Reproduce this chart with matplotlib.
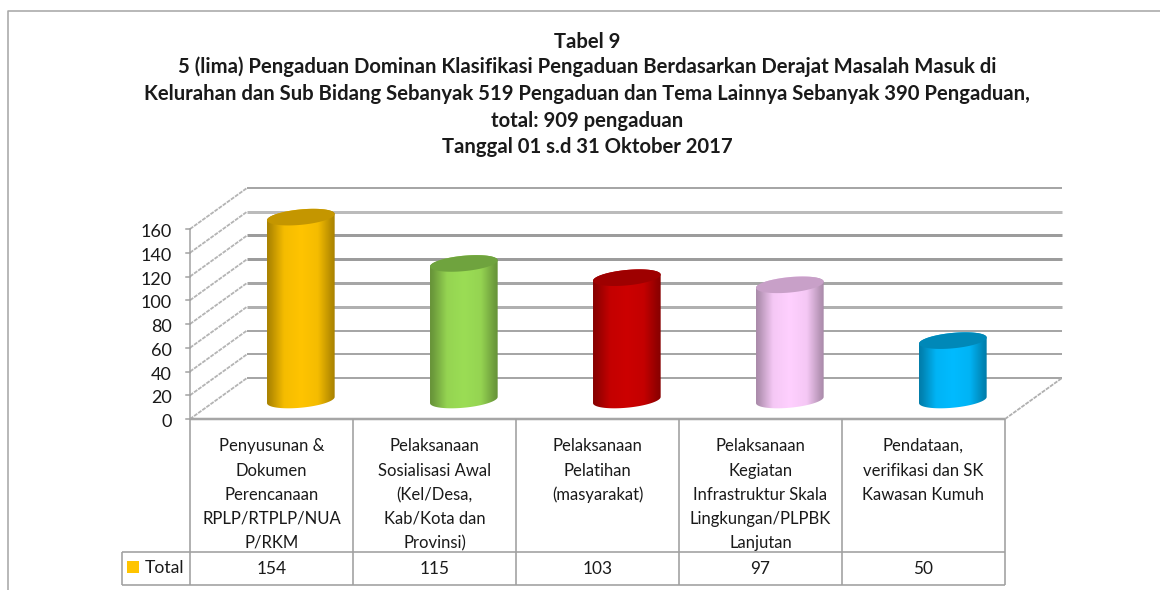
#encoding=utf-8
import numpy as np
import matplotlib
matplotlib.use('Agg')
import matplotlib.pyplot as plt
from matplotlib.path import Path
from matplotlib.colors import to_rgb

plt.rcParams['font.family'] = ['Lato', 'DejaVu Sans']

# data
title_lines = ['Tabel 9',
               '5 (lima) Pengaduan Dominan Klasifikasi Pengaduan Berdasarkan Derajat Masalah Masuk di',
               'Kelurahan dan Sub Bidang Sebanyak 519 Pengaduan dan Tema Lainnya Sebanyak 390 Pengaduan,',
               'total: 909 pengaduan',
               'Tanggal 01 s.d 31 Oktober 2017']
categories = [['Penyusunan &', 'Dokumen', 'Perencanaan', 'RPLP/RTPLP/NUA', 'P/RKM'],
              ['Pelaksanaan', 'Sosialisasi Awal', '(Kel/Desa,', 'Kab/Kota dan', 'Provinsi)'],
              ['Pelaksanaan', 'Pelatihan', '(masyarakat)'],
              ['Pelaksanaan', 'Kegiatan', 'Infrastruktur Skala', 'Lingkungan/PLPBK', 'Lanjutan'],
              ['Pendataan,', 'verifikasi dan SK', 'Kawasan Kumuh']]
values = [154, 115, 103, 97, 50]
series_name = 'Total'
y_ticks = [0, 20, 40, 60, 80, 100, 120, 140, 160]

# warna
bar_colors = ['#FFC400', '#9BDD55', '#CC0000', '#FFD0FF', '#00BBFF']
top_colors = ['#C49600', '#6FA33E', '#9E0000', '#C8A0C8', '#0088B8']
grid_widths = [2.0, 2.0, 2.0, 3.0, 3.0, 3.0, 3.0, 3.0, 2.0]
grid_colors = ['#A6A6A6', '#A6A6A6', '#A6A6A6', '#B0B0B0', '#A6A6A6',
               '#9C9C9C', '#9C9C9C', '#BBBBBB', '#A6A6A6']
line_color = '#A0A0A0'
text_color = '#1A1A1A'

W, H = 1160, 590
PX = 0.72  # 1 pixel dalam point

# skala: satu kategori 163 px, satu nilai 1.1875 px
cat_px = 163.0
val_px = 1.1875
x0_px, y0_px = 190.0, 419.0
depth_x = 57 / cat_px
depth_y = 41 / val_px
base_y = 16.0
bar_off = 0.68
bar_w = 0.415


def fx(x):
    return x / W


def fy(y):
    return 1 - y / H


def draw_fig_line(ax, xs, ys, lw=2.0, color=line_color, **kw):
    ax.plot([fx(v) for v in xs], [fy(v) for v in ys], transform=ax.figure.transFigure,
            lw=lw * PX, color=color, solid_capstyle='butt', **kw)


def draw_cylinder(ax, cx, value, color, top_color):
    a = bar_w / 2
    b = 6.5
    tilt = 2.6
    t = np.linspace(0, np.pi, 60)
    top_y = base_y + value
    # badan silinder
    xs_low = cx - a * np.cos(t)
    ys_low = base_y - b * np.sin(t) - tilt * np.cos(t)
    xs_up = cx + a * np.cos(t)
    ys_up = top_y + b * np.sin(t) + tilt * np.cos(t)
    verts = np.vstack([np.column_stack([xs_low, ys_low]), np.column_stack([xs_up, ys_up])])
    body = Path(np.vstack([verts, verts[0]]), closed=True)

    # gradasi kiri-kanan
    c = np.array(to_rgb(color))
    pos = np.linspace(0, 1, 200)
    k = np.interp(pos, [0, 0.06, 0.25, 0.5, 0.75, 0.94, 1], [0.66, 0.72, 0.96, 1.0, 0.96, 0.72, 0.66])
    grad = (c[None, :] * k[:, None])[None, :, :]
    im = ax.imshow(grad, extent=[cx - a, cx + a, base_y - 10, top_y + 10], aspect='auto',
                   interpolation='bilinear', zorder=4)
    im.set_clip_path(body, transform=ax.transData)

    # tutup atas
    tt = np.linspace(0, 2 * np.pi, 120)
    ax.fill(cx + a * np.cos(tt), top_y + b * np.sin(tt) + tilt * np.cos(tt),
            color=top_color, lw=0, zorder=5)


fig = plt.figure(figsize=(W / 100, H / 100), dpi=100)
ax = fig.add_axes([0, 0, 1, 1])
ax.axis('off')
ax.set_autoscale_on(False)
ax.set_xlim((0 - x0_px) / cat_px, (W - x0_px) / cat_px)
ax.set_ylim((y0_px - H) / val_px, y0_px / val_px)

# bingkai luar
draw_fig_line(ax, [8, 8, W], [H, 11, 11], lw=1.6, color='#A8A8A8')

# judul
title_y = [42, 67, 94, 121, 147]
for line, y in zip(title_lines, title_y):
    fig.text(fx(587), fy(y), line, ha='center', va='center', fontsize=14.6,
             fontweight='bold', color=text_color)

# garis kisi dinding belakang dan sisi kiri
n = len(values)
for tick, lw, col in zip(y_ticks, grid_widths, grid_colors):
    ax.plot([depth_x, n + depth_x], [tick + depth_y, tick + depth_y], lw=lw * PX, color=col,
            solid_capstyle='butt', zorder=1)
    ax.plot([0, depth_x], [tick, tick + depth_y], lw=1.8 * PX, color='#B4B4B4',
            ls=(0, (2.2, 0.6)), zorder=1)
    ax.plot([-4 / cat_px, 0], [tick, tick], lw=1.5 * PX, color=line_color, zorder=2)
    ax.text(-18 / cat_px, tick - 2.6, str(tick), ha='right', va='center', fontsize=13, color=text_color)

# sumbu y, lantai depan, sisi kanan lantai
ax.plot([0, 0], [0, y_ticks[-1]], lw=1.5 * PX, color=line_color, zorder=2)
ax.plot([0, n], [0, 0], lw=2.5 * PX, color='#A6A6A6', solid_capstyle='butt', zorder=2)
ax.plot([n, n + depth_x], [0, depth_y], lw=1.8 * PX, color='#B0B0B0',
        ls=(0, (2.2, 0.6)), zorder=2)

# silinder
for i, v in enumerate(values):
    draw_cylinder(ax, i + bar_off, v, bar_colors[i], top_colors[i])

# tabel data
row_top, row_mid, row_bot = 419, 552, 585
for i in range(n + 1):
    x = x0_px + i * cat_px
    draw_fig_line(ax, [x, x], [row_top, row_bot], lw=1.6)
draw_fig_line(ax, [122, 1005], [row_mid, row_mid], lw=1.6)
draw_fig_line(ax, [122, 1005], [row_bot, row_bot], lw=1.6)
draw_fig_line(ax, [122, 122], [row_mid, row_bot], lw=1.6)

line_y = [446, 471, 495, 519, 543]
for i, lines in enumerate(categories):
    for line, y in zip(lines, line_y):
        ax.text(i + 0.5, fy(y), line, transform=ax.get_xaxis_transform(),
                ha='center', va='center', fontsize=12, color=text_color)
    ax.text(i + 0.5, fy(569), str(values[i]), transform=ax.get_xaxis_transform(),
            ha='center', va='center', fontsize=12.4, color=text_color)

# legenda
fig.add_artist(plt.Rectangle((fx(127), fy(573)), 12 / W, 12 / H, transform=fig.transFigure,
                             facecolor=bar_colors[0], edgecolor='none'))
fig.text(fx(145), fy(568), series_name, ha='left', va='center', fontsize=12.6, color=text_color)

fig.savefig('out.png', dpi=100)
